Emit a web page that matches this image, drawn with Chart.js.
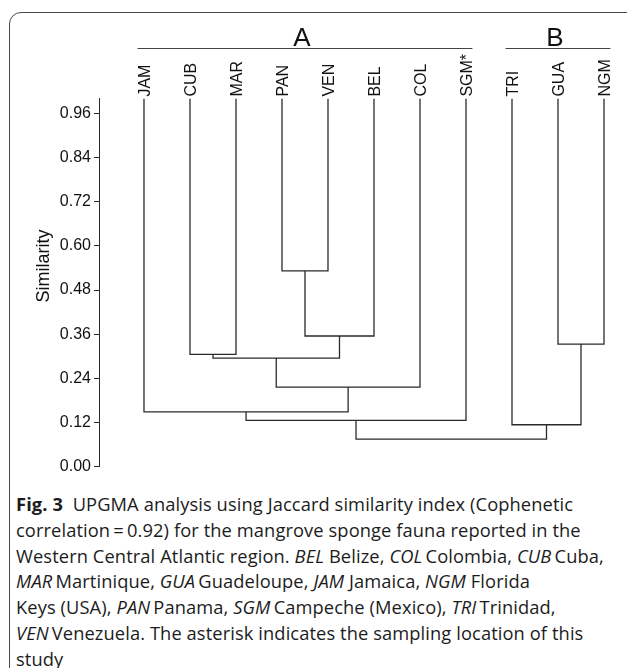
<!DOCTYPE html>
<html>
<head>
<meta charset="utf-8">
<script src="https://cdn.jsdelivr.net/npm/chart.js@4.4.1/dist/chart.umd.min.js"></script>
<style>
  html, body { margin: 0; padding: 0; background: #fff; overflow: hidden; width: 627px; height: 668px; }
  #frame { position: absolute; left: 9px; top: 12px; width: 700px; height: 720px; border: 1px solid #4a4a4a; border-radius: 12px; }
  #wrap { position: absolute; left: 0; top: 0; width: 627px; height: 480px; }
  #caption { position: absolute; left: 16px; top: 491px; font-family: 'Open Sans', sans-serif; font-size: 18.3px;
             letter-spacing: 0.1px; line-height: 25.8px; color: #1c1c1c; white-space: nowrap; }
  #caption b { font-weight: 700; }
</style>
</head>
<body>
<div id="frame"></div>
<div id="wrap"><canvas id="dendro"></canvas></div>
<div id="caption">
  <b>Fig. 3</b>&nbsp; UPGMA analysis using Jaccard similarity index (Cophenetic<br>
  correlation&thinsp;=&thinsp;0.92) for the mangrove sponge fauna reported in the<br>
  Western Central Atlantic region. <i>BEL</i> Belize, <i>COL</i>&thinsp;Colombia, <i>CUB</i>&thinsp;Cuba,<br>
  <i>MAR</i>&thinsp;Martinique, <i>GUA</i>&thinsp;Guadeloupe, <i>JAM</i> Jamaica, <i>NGM</i> Florida<br>
  Keys (USA), <i>PAN</i>&thinsp;Panama, <i>SGM</i>&thinsp;Campeche (Mexico), <i>TRI</i>&thinsp;Trinidad,<br>
  <i>VEN</i>&thinsp;Venezuela. The asterisk indicates the sampling location of this<br>
  study
</div>
<script>
// Leaves in dendrogram order
const leaves = ['JAM', 'CUB', 'MAR', 'PAN', 'VEN', 'BEL', 'COL', 'SGM*', 'TRI', 'GUA', 'NGM'];

// UPGMA merges: ids < 11 are leaves, 11+ are earlier merges in order
const mergeLeft   = [3, 11, 9, 1, 14, 15, 0, 17, 8, 18];
const mergeRight  = [4, 5, 10, 2, 12, 6, 16, 7, 13, 19];
const mergeHeight = [0.532, 0.355, 0.333, 0.305, 0.295, 0.216, 0.149, 0.126, 0.114, 0.075];

// Groups shown above the leaves
const groupNames = ['A', 'B'];
const groupFirst = [0, 8];
const groupLast  = [7, 10];

const yTicks = [0, 0.12, 0.24, 0.36, 0.48, 0.60, 0.72, 0.84, 0.96];

const LINE = '#2a2a2a';
const TEXT = '#111';
const FONT = '"Liberation Sans", Arial, sans-serif';

// build the U-shaped links
const nodeX = leaves.map((_, i) => i);
const nodeH = leaves.map(() => 1);
const datasets = [];
mergeHeight.forEach((h, k) => {
  const a = mergeLeft[k], b = mergeRight[k];
  datasets.push({
    data: [
      { x: nodeX[a], y: nodeH[a] },
      { x: nodeX[a], y: h },
      { x: nodeX[b], y: h },
      { x: nodeX[b], y: nodeH[b] }
    ],
    borderColor: LINE,
    borderWidth: 1.3,
    pointRadius: 0,
    tension: 0,
    fill: false
  });
  nodeX.push((nodeX[a] + nodeX[b]) / 2);
  nodeH.push(h);
});

// leaf labels, group brackets, y title
const annotations = {
  id: 'annotations',
  afterDraw(chart) {
    const ctx = chart.ctx;
    const xs = chart.scales.x;
    const top = chart.chartArea.top;
    ctx.save();
    ctx.fillStyle = TEXT;

    // rotated leaf names, reading bottom to top
    ctx.font = '16px ' + FONT;
    ctx.textAlign = 'left';
    ctx.textBaseline = 'alphabetic';
    leaves.forEach((name, i) => {
      ctx.save();
      ctx.translate(xs.getPixelForValue(i) + 5.7, top - 2);
      ctx.rotate(-Math.PI / 2);
      ctx.fillText(name, 0, 0);
      ctx.restore();
    });

    // group brackets
    ctx.strokeStyle = '#444';
    ctx.lineWidth = 1;
    ctx.textAlign = 'center';
    ctx.font = '26px ' + FONT;
    groupNames.forEach((name, i) => {
      const x0 = xs.getPixelForValue(groupFirst[i] - 0.14);
      const x1 = xs.getPixelForValue(groupLast[i] + 0.14);
      ctx.beginPath();
      ctx.moveTo(x0, 48.5);
      ctx.lineTo(x1, 48.5);
      ctx.stroke();
      ctx.fillText(name, (x0 + x1) / 2 - 3, 46);
    });

    // y axis title
    ctx.translate(49, 266);
    ctx.rotate(-Math.PI / 2);
    ctx.font = '18px ' + FONT;
    ctx.fillText('Similarity', 0, 0);
    ctx.restore();
  }
};

new Chart(document.getElementById('dendro'), {
  type: 'line',
  data: { datasets },
  plugins: [annotations],
  options: {
    responsive: true,
    maintainAspectRatio: false,
    animation: false,
    parsing: false,
    layout: { padding: { top: 98.6, bottom: 13.3, left: 0, right: 0 } },
    plugins: { legend: { display: false }, tooltip: { enabled: false } },
    scales: {
      x: {
        type: 'linear',
        display: false,
        min: -0.978,
        max: 10.5
      },
      y: {
        type: 'linear',
        min: 0,
        max: 1,
        afterBuildTicks: s => { s.ticks = yTicks.map(v => ({ value: v })); },
        afterFit: s => { s.width = 99; },
        grid: { drawOnChartArea: false, drawTicks: true, tickLength: 5, color: LINE },
        border: { display: true, color: LINE, width: 1 },
        ticks: {
          padding: 3,
          color: TEXT,
          font: { family: FONT, size: 16 },
          callback: v => v.toFixed(2)
        }
      }
    }
  }
});
</script>
</body>
</html>
